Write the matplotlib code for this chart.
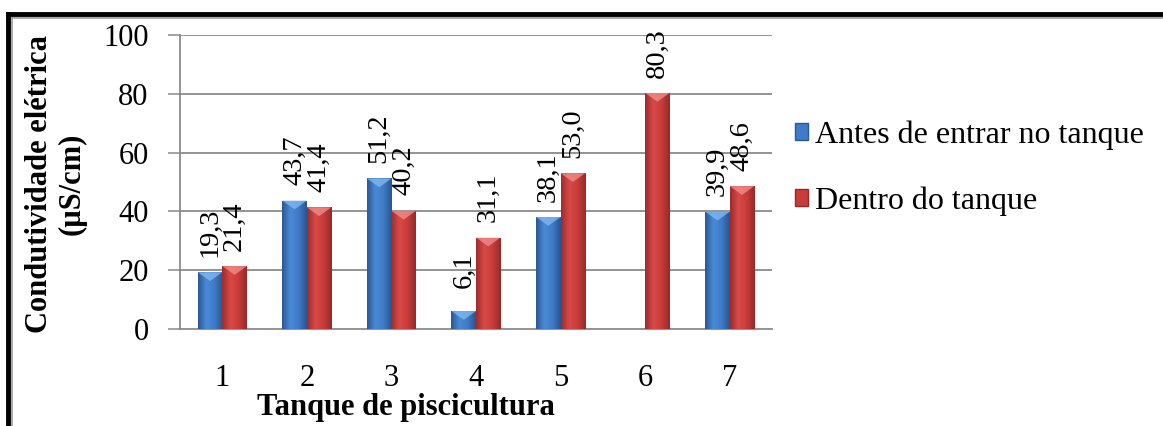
import numpy as np
import matplotlib.pyplot as plt
from matplotlib.colors import LinearSegmentedColormap
from matplotlib.patches import Polygon, Rectangle
from matplotlib.lines import Line2D

plt.rcParams['font.family'] = ['Liberation Serif', 'DejaVu Serif']

# dados: condutividade elétrica por tanque
tanques = ['1', '2', '3', '4', '5', '6', '7']
antes = [19.3, 43.7, 51.2, 6.1, 38.1, np.nan, 39.9]
dentro = [21.4, 41.4, 40.2, 31.1, 53.0, 80.3, 48.6]
serie_nomes = ['Antes de entrar no tanque', 'Dentro do tanque']
y_ticks = [0, 20, 40, 60, 80, 100]

cinza = '#8a8a8a'
cores_azul = ['#2B5896', '#4A8AD6', '#3F7BC6', '#2A5590']
cores_verm = ['#9C2C2C', '#D84A48', '#C83C3A', '#962A2A']
topo_azul = '#86BBF2'
topo_verm = '#F29290'


def barra_gradiente(ax, ret, cores, cor_topo):
    x0, y0 = ret.get_xy()
    w, h = ret.get_width(), ret.get_height()
    if not np.isfinite(h) or h <= 0:
        return
    cmap = LinearSegmentedColormap.from_list('g', cores)
    grad = np.linspace(0, 1, 64).reshape(1, -1)
    im = ax.imshow(grad, extent=[x0, x0 + w, y0, y0 + h], aspect='auto',
                   cmap=cmap, zorder=3, interpolation='bicubic')
    im.set_clip_path(ret)
    # chanfro claro no topo
    d = min(3.0, h * 0.5)
    tri = Polygon([[x0, y0 + h], [x0 + w, y0 + h], [x0 + w / 2, y0 + h - d]],
                  closed=True, facecolor=cor_topo, edgecolor='none',
                  alpha=0.75, zorder=4)
    ax.add_patch(tri)


fig = plt.figure(figsize=(11.63, 4.26), dpi=100)
ax = fig.add_axes([180 / 1163, 97 / 426, 592 / 1163, 294 / 426])

x = np.arange(1, len(tanques) + 1)
larg = 0.29
b1 = ax.bar(x - larg / 2, antes, larg, color='none', zorder=3)
b2 = ax.bar(x + larg / 2, dentro, larg, color='none', zorder=3)

for r in b1:
    barra_gradiente(ax, r, cores_azul, topo_azul)
for r in b2:
    barra_gradiente(ax, r, cores_verm, topo_verm)

# rótulos de valor, girados
for barras, vals in ((b1, antes), (b2, dentro)):
    for r, v in zip(barras, vals):
        if np.isnan(v):
            continue
        ax.annotate(f'{v:.1f}'.replace('.', ','),
                    (r.get_x() + r.get_width() / 2, v),
                    xytext=(0, 29), textcoords='offset points',
                    rotation=90, ha='center', va='center', fontsize=20.5)

ax.set_xlim(0.5, 7.5)
ax.set_ylim(0, 100)
ax.set_yticks(y_ticks)
ax.set_xticks(x)
ax.set_xticklabels(tanques)
ax.tick_params(axis='y', length=8.6, width=1.1, color=cinza, pad=14,
               labelsize=22)
ax.tick_params(axis='x', length=0, pad=25, labelsize=22)
for yv in y_ticks[1:]:
    ax.axhline(yv, color=cinza, lw=1.3, zorder=1)
for s in ('top', 'right'):
    ax.spines[s].set_visible(False)
for s in ('left', 'bottom'):
    ax.spines[s].set_color(cinza)
    ax.spines[s].set_linewidth(1.3)

fig.text(406 / 1163, 1 - 407 / 426, 'Tanque de piscicultura', ha='center',
         va='center', fontsize=22, fontweight='bold')
fig.text(40 / 1163, 1 - 184 / 426, 'Condutividade elétrica', ha='center',
         va='center', rotation=90, fontsize=22, fontweight='bold')
fig.text(72 / 1163, 1 - 184 / 426, '(µS/cm)', ha='center',
         va='center', rotation=90, fontsize=22, fontweight='bold')

# legenda
alcas = [Rectangle((0, 0), 1, 1, facecolor='#3F7BC6', edgecolor='#2B5896'),
         Rectangle((0, 0), 1, 1, facecolor='#C83C3A', edgecolor='#962A2A')]
fig.legend(alcas, serie_nomes, loc='center left',
           bbox_to_anchor=(795 / 1163, 1 - 168 / 426), frameon=False,
           fontsize=23, handlelength=0.42, handleheight=0.42,
           handletextpad=0.2, labelspacing=1.15, borderpad=0,
           borderaxespad=0)

# moldura dupla
fig.add_artist(Line2D([7.5 / 1163, 1], [1 - 13.5 / 426, 1 - 13.5 / 426],
                      color='black', lw=3.5, transform=fig.transFigure))
fig.add_artist(Line2D([7.5 / 1163, 7.5 / 1163], [0, 1 - 13.5 / 426],
                      color='black', lw=3.5, transform=fig.transFigure))
fig.add_artist(Line2D([12 / 1163, 1], [1 - 18 / 426, 1 - 18 / 426],
                      color='#9a9a9a', lw=1.2, transform=fig.transFigure))
fig.add_artist(Line2D([12 / 1163, 12 / 1163], [0, 1 - 18 / 426],
                      color='#9a9a9a', lw=1.2, transform=fig.transFigure))

fig.savefig('out.png', dpi=100)
